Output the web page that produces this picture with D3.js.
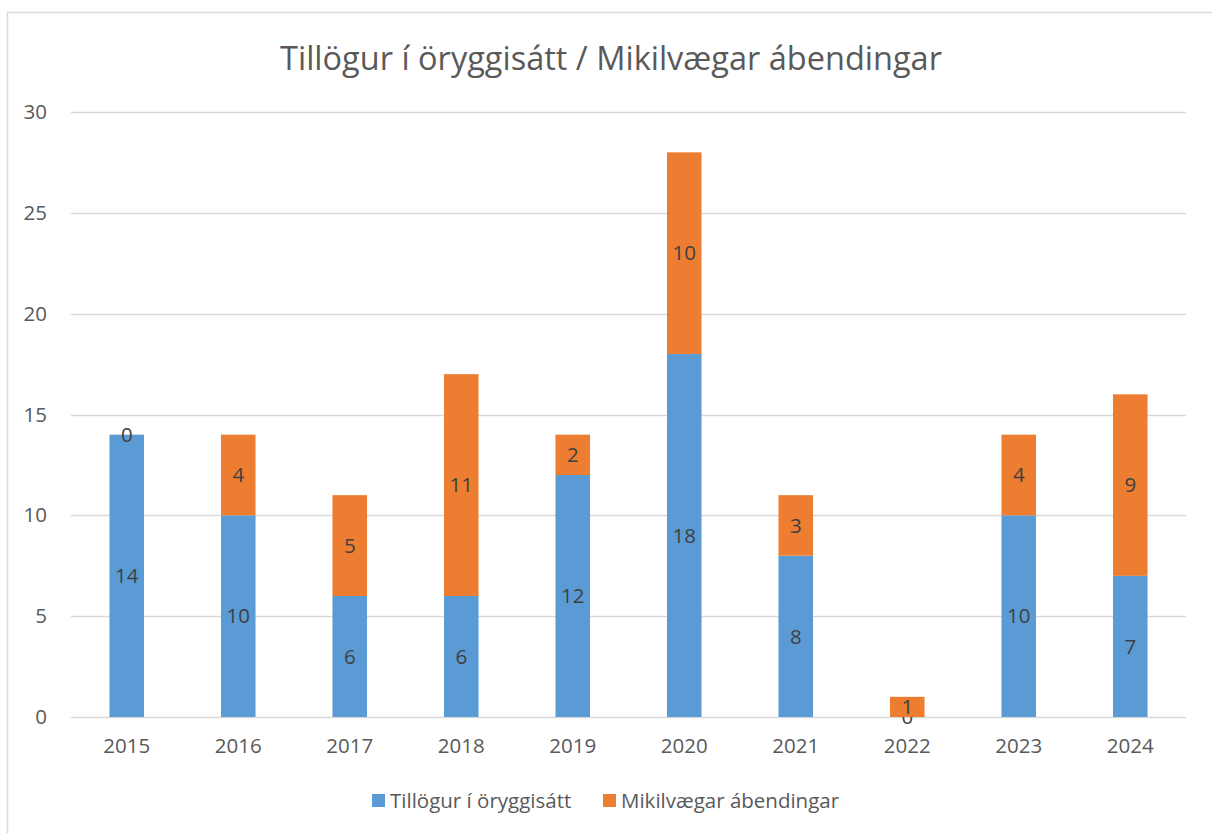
<!DOCTYPE html>
<html>
<head>
<meta charset="utf-8">
<script src="https://d3js.org/d3.v7.min.js"></script>
<style>
  body { margin: 0; background: #fff; }
  text { font-family: "Open Sans", "Liberation Sans", sans-serif; }
</style>
</head>
<body>
<div class="chart"></div>
<script>
// Stacked bars: Tillögur í öryggisátt / Mikilvægar ábendingar

var years = ["2015", "2016", "2017", "2018", "2019", "2020", "2021", "2022", "2023", "2024"];
var tillogur = [14, 10, 6, 6, 12, 18, 8, 0, 10, 7];
var abendingar = [0, 4, 5, 11, 2, 10, 3, 1, 4, 9];
var seriesNames = ["Tillögur í öryggisátt", "Mikilvægar ábendingar"];
var colors = ["#5B9BD5", "#ED7D31"];
var yTicks = [0, 5, 10, 15, 20, 25, 30];

var width = 1212,
	height = 833,
	margin = {top: 112, right: 26, bottom: 116, left: 71};

var svg = d3.select(".chart").append("svg")
	.attr("width", width)
	.attr("height", height);

// frame
svg.append("rect")
	.attr("x", 7.5).attr("y", 12.5)
	.attr("width", width).attr("height", height)
	.attr("fill", "none")
	.attr("stroke", "#d9d9d9")
	.attr("stroke-width", 1.5);

svg.append("text")
	.attr("x", 611)
	.attr("y", 70)
	.attr("text-anchor", "middle")
	.style("font-size", "32.5px")
	.style("fill", "#595959")
	.text("Tillögur í öryggisátt / Mikilvægar ábendingar");

var data = years.map(function(y, i) {
	return {year: y, a: tillogur[i], b: abendingar[i]};
});

var x = d3.scaleBand()
	.domain(years)
	.range([margin.left, width - margin.right])
	.paddingInner(0.69)
	.paddingOuter(0.345);

var y = d3.scaleLinear()
	.domain([0, 30])
	.range([height - margin.bottom, margin.top]);

// gridlines
svg.append("g")
	.selectAll("line")
	.data(yTicks)
	.enter().append("line")
		.attr("x1", margin.left)
		.attr("x2", width - margin.right)
		.attr("y1", function(d) { return Math.round(y(d)) + 0.5; })
		.attr("y2", function(d) { return Math.round(y(d)) + 0.5; })
		.attr("stroke", "#d9d9d9")
		.attr("stroke-width", 1.5);

var yAxis = svg.append("g")
	.attr("transform", "translate(" + (margin.left - 24) + ",0)")
	.call(d3.axisLeft(y).tickValues(yTicks).tickSize(0).tickPadding(0));
yAxis.select(".domain").remove();
yAxis.selectAll("text")
	.style("font-size", "20.5px")
	.style("fill", "#595959")
	.style("font-family", "'Open Sans', sans-serif");

var xAxis = svg.append("g")
	.attr("transform", "translate(0," + (height - margin.bottom) + ")")
	.call(d3.axisBottom(x).tickSize(0).tickPadding(21));
xAxis.select(".domain").remove();
xAxis.selectAll("text")
	.style("font-size", "20.5px")
	.style("fill", "#595959")
	.style("font-family", "'Open Sans', sans-serif");

var stack = d3.stack().keys(["a", "b"]);
var layers = stack(data);

var groups = svg.selectAll(".layer")
	.data(layers)
	.enter().append("g")
		.attr("class", "layer")
		.attr("fill", function(d, i) { return colors[i]; });

groups.selectAll("rect")
	.data(function(d) { return d; })
	.enter().append("rect")
		.attr("x", function(d) { return x(d.data.year); })
		.attr("y", function(d) { return y(d[1]); })
		.attr("width", x.bandwidth())
		.attr("height", function(d) { return y(d[0]) - y(d[1]); });

// data labels (centred in each segment, as in the original)
groups.selectAll(".lbl")
	.data(function(d) { return d; })
	.enter().append("text")
		.attr("class", "lbl")
		.attr("x", function(d) { return x(d.data.year) + x.bandwidth() / 2; })
		.attr("y", function(d) { return y((d[0] + d[1]) / 2); })
		.attr("dy", "0.35em")
		.attr("text-anchor", "middle")
		.style("font-size", "20.5px")
		.style("fill", "#404040")
		.text(function(d) { return d[1] - d[0]; });

// legend
var legend = svg.append("g").attr("transform", "translate(0,801)");
var legendX = [372, 603];
seriesNames.forEach(function(name, i) {
	legend.append("rect")
		.attr("x", legendX[i]).attr("y", -7)
		.attr("width", 13).attr("height", 13)
		.attr("fill", colors[i]);
	legend.append("text")
		.attr("x", legendX[i] + 18).attr("y", 0)
		.attr("dy", "0.35em")
		.style("font-size", "20.5px")
		.style("fill", "#595959")
		.text(name);
});
</script>
</body>
</html>
